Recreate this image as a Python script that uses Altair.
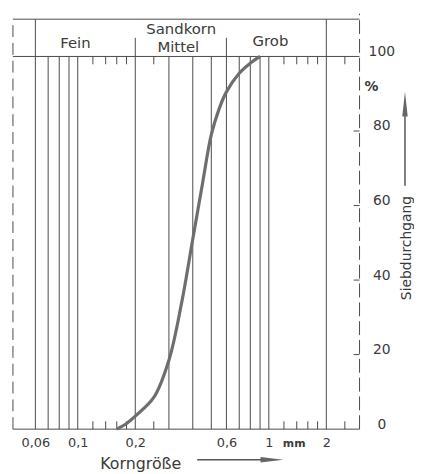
import altair as alt
import pandas as pd

# ---------------- data ----------------
X_MIN, X_MAX = 0.0458, 2.984      # mm, log axis range
Y_MIN, Y_MAX = 0, 110             # % (band above 100)

# sieve curve (Korngröße mm -> Siebdurchgang %)
korn = [0.16, 0.18, 0.2, 0.25, 0.3, 0.35, 0.4, 0.45, 0.5, 0.55, 0.6, 0.7, 0.8, 0.9]
durchgang = [0, 1.5, 3.5, 8.5, 18.5, 34, 51, 66, 79, 86, 90.5, 95.5, 98.2, 100]

grid_main = [0.07, 0.08, 0.09, 0.1, 0.3, 0.4, 0.5, 0.7, 0.8, 0.9, 1.0]
grid_class = [0.2, 0.6]          # Fein/Mittel, Mittel/Grob
grid_outer = [0.06, 2]           # Sandkorn limits
minor = [0.12, 0.14, 0.16, 0.18, 0.25, 1.2, 1.4, 1.6, 1.8, 2.5]
x_labels = [0.06, 0.1, 0.2, 0.6, 1, 2]
y_labels = [0, 20, 40, 60, 80, 100]
y_minor = [20, 40, 60, 80]

band_text = ["Fein", "Sandkorn", "Mittel", "Grob"]
band_x = [0.0972, 0.348, 0.336, 1.02]
band_y = [103.6, 107.3, 102.5, 104.1]

FONT = "DejaVu Sans"
LINE = "#4a4a4a"
TXT = "#3a3a3a"

xs = alt.Scale(type="log", domain=[X_MIN, X_MAX], nice=False)
ys = alt.Scale(domain=[Y_MIN, Y_MAX], nice=False, zero=False)

x_axis = alt.Axis(values=x_labels, labelExpr="replace(toString(datum.value), '.', ',')",
                  ticks=False, domain=False, grid=False, labelPadding=8,
                  labelFontSize=13, labelFont=FONT, labelColor=TXT, title=None,
                  labelFlush=False, labelOverlap=False)
y_axis = alt.Axis(orient="right", values=y_labels, ticks=False, domain=False, grid=False,
                  labelPadding=22, labelAlign="center", labelOffset=-5,
                  labelFontSize=14, labelFont=FONT, labelColor=TXT, title=None)


def X(f="x"):
    return alt.X(f"{f}:Q", scale=xs, axis=x_axis)


def Y(f="y"):
    return alt.Y(f"{f}:Q", scale=ys, axis=y_axis)


def vrules(xvals, y0, y1, **kw):
    df = pd.DataFrame({"x": xvals, "y": [y0] * len(xvals), "y2": [y1] * len(xvals)})
    return alt.Chart(df).mark_rule(color=LINE, strokeWidth=1, **kw).encode(
        x=X(), y=Y(), y2="y2:Q")


def hrules(yvals, x0, x1, **kw):
    df = pd.DataFrame({"y": yvals, "x": [x0] * len(yvals), "x2": [x1] * len(yvals)})
    return alt.Chart(df).mark_rule(color=LINE, strokeWidth=1, **kw).encode(
        x=X(), x2="x2:Q", y=Y())


layers = []
layers.append(vrules(grid_main, 0, 100))
layers.append(vrules(grid_class, 0, 105))
layers.append(vrules(grid_outer, 0, 110))
layers.append(vrules(minor, 0, 2.1))
layers.append(vrules(minor, 97.9, 100))
layers.append(hrules([0, 100], X_MIN, X_MAX))
layers.append(hrules([110], X_MIN, X_MAX))
layers.append(hrules(y_minor, 2.778, X_MAX))
# dashed frame sides
layers.append(vrules([X_MIN], 0, 110, strokeDash=[12, 6]))
layers.append(vrules([X_MAX], 0, 111.5, strokeDash=[14, 5]))

# curve
curve = pd.DataFrame({"x": korn, "y": durchgang})
layers.append(alt.Chart(curve).mark_line(color="#6e6e6e", strokeWidth=3.2,
                                          interpolate="catmull-rom").encode(x=X(), y=Y()))

# band labels
band = pd.DataFrame({"x": band_x, "y": band_y, "t": band_text})
layers.append(alt.Chart(band).mark_text(font=FONT, fontSize=15, color=TXT,
                                        baseline="middle", align="center").encode(
    x=X(), y=Y(), text="t:N"))

# extra texts
def text_layer(x, y, t, size, **kw):
    df = pd.DataFrame({"x": [x], "y": [y], "t": [t]})
    return alt.Chart(df).mark_text(font=FONT, fontSize=size, color=TXT,
                                   baseline="middle", align="center", **kw).encode(
        x=X(), y=Y(), text="t:N")


layers.append(text_layer(1.357, -4.0, "mm", 11, fontWeight="bold"))
layers.append(text_layer(3.44, 91.9, "%", 14, fontWeight="bold"))
layers.append(text_layer(0.2136, -9.3, "Korngröße", 16))
layers.append(text_layer(5.29, 48.6, "Siebdurchgang", 14, angle=270))

# arrows
arr_h = pd.DataFrame({"x": [0.422], "x2": [0.985], "y": [-8.2]})
layers.append(alt.Chart(arr_h).mark_rule(color="#555", strokeWidth=1.5).encode(
    x=X(), x2="x2:Q", y=Y()))
head_h = pd.DataFrame({"x": [1.038], "y": [-8.2]})
layers.append(alt.Chart(head_h).mark_point(shape="M1,0L-1,-0.24L-1,0.24Z", filled=True,
                                           size=529, color="#666", opacity=1).encode(
    x=X(), y=Y()))
arr_v = pd.DataFrame({"x": [5.16], "y": [65.3], "y2": [87.9]})
layers.append(alt.Chart(arr_v).mark_rule(color="#555", strokeWidth=1.5).encode(
    x=X(), y=Y(), y2="y2:Q"))
head_v = pd.DataFrame({"x": [5.16], "y": [87.2]})
layers.append(alt.Chart(head_v).mark_point(shape="M0,-1L0.22,1L-0.22,1Z", filled=True,
                                           size=625, color="#666", opacity=1).encode(
    x=X(), y=Y()))

chart = alt.layer(*layers).properties(
    width=350, height=414,
    padding={"left": 5, "top": 9, "right": 55, "bottom": 43},
    autosize=alt.AutoSizeParams(type="none"),
    background="white",
).configure_view(stroke=None)

chart.save("out.html", embed_options={"renderer": "svg", "actions": False})
